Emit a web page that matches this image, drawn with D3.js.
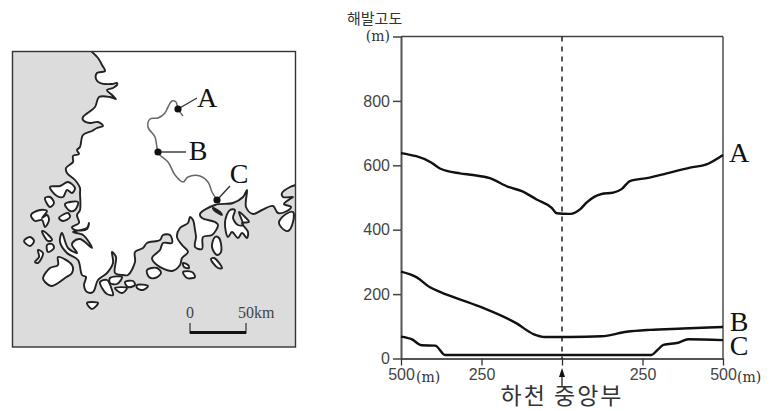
<!DOCTYPE html>
<html>
<head>
<meta charset="utf-8">
<style>
body { margin: 0; background: #fff; }
svg { display: block; }
.ko { font-family: "Noto Sans CJK KR", sans-serif; fill: #333; }
.unit { font-family: "DejaVu Serif", serif; font-size: 14px; fill: #333; }
.letter { font-family: "Liberation Serif", serif; font-size: 28px; fill: #111; }
</style>
</head>
<body>
<svg id="chart" width="779" height="411"></svg>
<script src="https://cdn.jsdelivr.net/npm/d3@7"></script>
<script>
// cross sections: distance from river centre (m), elevation (m)
var sectionA = [[-500,638],[-405,608],[-379,590],[-317,575],[-276,570],[-224,560],[-167,533],[-125,520],[-79,494],[-32,468],[-16,451],[22,449],[35,451],[56,463],[77,485],[123,511],[159,515],[185,526],[211,551],[268,561],[325,575],[398,593],[449,603],[500,632]];
var sectionB = [[-500,270],[-451,252],[-410,221],[-379,207],[-255,161],[-141,109],[-89,76],[-53,67],[25,67],[123,69],[201,83],[273,89],[376,93],[500,98]];
var sectionC = [[-500,68],[-467,60],[-436,41],[-394,40],[-363,11],[278,11],[294,24],[315,42],[361,49],[392,60],[500,57]];
var sectionNames = ["A", "B", "C"];
var elevationTicks = [0, 200, 400, 600, 800, 1000];
var distanceTicks = [-500, -250, 0, 250, 500];

// map outlines in map grid units
var mainCoast = [[91,51],[98,58],[102,65],[105,71],[97,73],[96,79],[100,83],[112,84],[117,83],[117,85],[113,88],[107,90],[112,95],[116,99],[110,97],[99,97],[95,107],[83,117],[83,120],[90,123],[98,122],[103,126],[97,128],[92,131],[83,135],[80,147],[77,150],[79,154],[73,156],[73,162],[66,168],[67,173],[75,180],[80,188],[80,193],[80,210],[77,215],[79,223],[72,227],[75,230],[87,229],[89,223],[87,228],[73,232],[83,235],[92,248],[80,239],[73,242],[72,245],[77,253],[68,248],[62,233],[60,242],[67,253],[78,260],[82,275],[86,277],[84,285],[87,292],[93,292],[98,280],[107,273],[113,263],[112,252],[116,257],[115,273],[123,275],[128,275],[135,262],[135,252],[143,248],[147,243],[160,240],[163,235],[170,235],[172,243],[163,243],[160,250],[152,258],[157,265],[172,271],[180,265],[182,258],[188,252],[182,245],[177,237],[180,228],[188,223],[190,217],[193,220],[195,230],[196,237],[195,247],[202,249],[203,237],[212,235],[218,225],[215,222],[202,218],[200,214],[215,205],[233,203],[243,197],[247,190],[246,207],[253,214],[262,210],[273,206],[278,213],[287,211],[291,207],[284,204],[290,199],[293,197],[283,197],[282,193],[290,187],[296,185]];
var islands = [
	[[50,187],[60,186],[68,182],[75,188],[72,193],[67,190],[63,197],[57,196]],
	[[65,204],[78,202],[75,210],[70,211]],
	[[45,198],[50,197],[54,203],[50,207]],
	[[59,218],[68,213],[70,217],[63,221]],
	[[31,215],[40,210],[47,211],[42,218],[47,215],[49,220],[45,227],[42,220],[35,221]],
	[[42,231],[45,232],[52,240],[48,241]],
	[[24,241],[30,237],[34,241],[30,246]],
	[[47,245],[52,244],[54,248],[48,252]],
	[[38,250],[43,253],[38,263],[35,262],[39,257]],
	[[43,278],[50,268],[58,265],[58,257],[72,265],[72,273],[65,278],[58,283],[52,286],[45,282]],
	[[87,303],[98,303],[92,309]],
	[[100,282],[107,280],[112,290],[113,295],[107,294],[102,288]],
	[[110,278],[122,277],[117,284],[110,283]],
	[[115,288],[127,288],[122,293]],
	[[125,282],[133,281],[135,285],[128,287]],
	[[137,285],[148,286],[143,290],[137,288]],
	[[147,270],[157,268],[161,273],[155,278],[149,277]],
	[[183,263],[188,265],[189,268],[184,267]],
	[[183,272],[192,272],[195,277],[187,278]],
	[[211,259],[214,258],[222,268],[218,268]],
	[[215,237],[219,238],[221,252],[217,255],[212,247]],
	[[213,208],[220,212],[222,215],[214,210]],
	[[225,222],[230,210],[235,210],[233,218],[238,225],[243,225],[239,212],[245,217],[249,222],[242,223],[248,232],[247,238],[242,233],[238,238],[232,232],[228,237]],
	[[279,222],[286,214],[293,212],[293,222],[288,231],[281,227]]
];
var river = [[183,116],[178,109],[176,102],[172,101],[168,107],[165,113],[158,118],[150,119],[148,127],[155,137],[157,148],[158,153],[168,162],[175,175],[183,182],[188,177],[200,176],[208,182],[212,192],[217,200]];
var sites = [
	{ name: "A", at: [178,109], to: [197,98], label: [207,107] },
	{ name: "B", at: [158,152], to: [186,152], label: [198,160] },
	{ name: "C", at: [217,200], to: [230,186], label: [239,183] }
];
var scaleKm = [0, 50];

var svg = d3.select("#chart");

// ---- map ----
var mapX = d3.scaleLinear().domain([12, 296]).range([12, 296]);
var mapY = d3.scaleLinear().domain([51, 347]).range([51, 347]);
var kmX = d3.scaleLinear().domain(scaleKm).range([190, 246]);
var coastLine = d3.line()
    .x(function (d) { return mapX(d[0]); })
    .y(function (d) { return mapY(d[1]); })
    .curve(d3.curveCatmullRom.alpha(0.5));
var closedLine = d3.line()
    .x(function (d) { return mapX(d[0]); })
    .y(function (d) { return mapY(d[1]); })
    .curve(d3.curveCatmullRomClosed.alpha(0.5));

svg.append("clipPath").attr("id", "frame")
  .append("rect")
    .attr("x", mapX(12)).attr("y", mapY(51))
    .attr("width", mapX(296) - mapX(12)).attr("height", mapY(347) - mapY(51));

var map = svg.append("g").attr("clip-path", "url(#frame)");
map.append("rect")
    .attr("x", mapX(12)).attr("y", mapY(51))
    .attr("width", mapX(296) - mapX(12)).attr("height", mapY(347) - mapY(51))
    .style("fill", "#dcdcdc");
map.append("path")
    .attr("d", coastLine(mainCoast) + "L" + mapX(296) + "," + mapY(51) + "Z")
    .style("fill", "#fff");
map.append("path")
    .attr("d", coastLine(mainCoast))
    .style("fill", "none").style("stroke", "#222").style("stroke-width", 1.9);
map.selectAll("path.island")
    .data(islands)
  .enter()
  .append("path").classed("island", true)
    .attr("d", closedLine)
    .style("fill", "#fff").style("stroke", "#222").style("stroke-width", 1.9);
map.append("path")
    .attr("d", coastLine(river))
    .style("fill", "none").style("stroke", "#666").style("stroke-width", 1.5);

svg.append("rect")
    .attr("x", mapX(12.5)).attr("y", mapY(51.5))
    .attr("width", mapX(295.5) - mapX(12.5)).attr("height", mapY(347) - mapY(51.5))
    .style("fill", "none").style("stroke", "#333").style("stroke-width", 1.4);

var site = svg.selectAll("g.site")
    .data(sites)
  .enter()
  .append("g").classed("site", true);
site.append("line")
    .attr("x1", function (d) { return mapX(d.at[0]); })
    .attr("y1", function (d) { return mapY(d.at[1]); })
    .attr("x2", function (d) { return mapX(d.to[0]); })
    .attr("y2", function (d) { return mapY(d.to[1]); })
    .style("stroke", "#333").style("stroke-width", 1.4);
site.append("circle")
    .attr("cx", function (d) { return mapX(d.at[0]); })
    .attr("cy", function (d) { return mapY(d.at[1]); })
    .attr("r", 3.6)
    .style("fill", "#111");
site.append("text").classed("letter", true)
    .attr("x", function (d) { return mapX(d.label[0]); })
    .attr("y", function (d) { return mapY(d.label[1]); })
    .attr("text-anchor", "middle")
    .text(function (d) { return d.name; });

// scale bar
svg.append("path")
    .attr("d", "M" + kmX(0) + ",323V333H" + kmX(50) + "V323")
    .style("fill", "none").style("stroke", "#333").style("stroke-width", 1.2);
svg.append("line")
    .attr("x1", kmX(0)).attr("x2", kmX(50)).attr("y1", 332.5).attr("y2", 332.5)
    .style("stroke", "#111").style("stroke-width", 3);
svg.append("text")
    .attr("x", kmX(0)).attr("y", 318).attr("text-anchor", "middle")
    .style("font-size", "16px").style("font-family", "Liberation Serif").style("fill", "#444")
    .text("0");
svg.append("text")
    .attr("x", kmX(50) - 8).attr("y", 318)
    .style("font-size", "16px").style("font-family", "Liberation Serif").style("fill", "#444")
    .text("50km");

// ---- cross section ----
var x = d3.scaleLinear().domain([-500, 500]).range([401, 723]);
var y = d3.scaleLinear().domain([0, 1000]).range([358.5, 36.5]);

var yAxis = d3.axisLeft(y)
    .tickValues(elevationTicks)
    .tickSize(8)
    .tickSizeOuter(0)
    .tickFormat(function (d) { return d === 1000 ? "" : d; });
var yGroup = svg.append("g")
    .attr("transform", "translate(" + x(-500) + ",0)")
    .call(yAxis);
yGroup.select(".domain").style("stroke", "#555").style("stroke-width", 2);
yGroup.selectAll(".tick line").style("stroke", "#444").style("stroke-width", 1.5);
yGroup.selectAll(".tick text").attr("x", -11).style("font-size", "16px").style("font-family", "Liberation Sans").style("fill", "#444");

var xAxis = d3.axisBottom(x)
    .tickValues(distanceTicks)
    .tickSize(7)
    .tickSizeOuter(0)
    .tickFormat(function (d) { return d === 0 ? "" : Math.abs(d); });
var xGroup = svg.append("g")
    .attr("transform", "translate(0," + y(0) + ")")
    .call(xAxis);
xGroup.select(".domain").style("stroke", "#555").style("stroke-width", 2);
xGroup.selectAll(".tick line").style("stroke", "#333").style("stroke-width", 1.3);
xGroup.selectAll(".tick text").attr("y", 10).style("font-size", "16px").style("font-family", "Liberation Sans").style("fill", "#444");

// top and right border
svg.append("line")
    .attr("x1", x(-500)).attr("x2", x(500)).attr("y1", y(1000)).attr("y2", y(1000))
    .style("stroke", "#444").style("stroke-width", 1.6);
svg.append("line")
    .attr("x1", x(500)).attr("x2", x(500)).attr("y1", y(1000)).attr("y2", y(0))
    .style("stroke", "#222").style("stroke-width", 1.2);
svg.append("line")
    .attr("x1", x(0)).attr("x2", x(0)).attr("y1", y(1000)).attr("y2", y(0))
    .style("stroke", "#111").style("stroke-width", 1.4).style("stroke-dasharray", "5,5");

var profile = d3.line()
    .x(function (d) { return x(d[0]); })
    .y(function (d) { return y(d[1]); })
    .curve(d3.curveMonotoneX);

var sections = [sectionA, sectionB, sectionC];
svg.selectAll("path.section")
    .data(sections)
  .enter()
  .append("path").classed("section", true)
    .attr("d", profile)
    .style("fill", "none").style("stroke", "#111").style("stroke-width", 2.4);

svg.selectAll("text.name")
    .data(sectionNames)
  .enter()
  .append("text").attr("class", "letter name")
    .attr("x", 739)
    .attr("y", function (d, i) { return [162, 331, 355][i]; })
    .attr("text-anchor", "middle")
    .text(function (d) { return d; });

svg.append("text").attr("class", "ko")
    .attr("x", 347).attr("y", 24).style("font-size", "15px")
    .text("해발고도");
svg.append("text").attr("class", "unit")
    .attr("x", 390).attr("y", 41).attr("text-anchor", "end")
    .text("(m)");
svg.append("text").attr("class", "unit")
    .attr("x", 416).attr("y", 382)
    .text("(m)");
svg.append("text").attr("class", "unit")
    .attr("x", 737).attr("y", 382)
    .text("(m)");

// arrow to river centre
svg.append("line")
    .attr("x1", x(0)).attr("x2", x(0)).attr("y1", 372).attr("y2", 386)
    .style("stroke", "#222").style("stroke-width", 1.3);
svg.append("path")
    .attr("d", "M" + x(0) + ",368l3,9h-6z")
    .style("fill", "#111");
svg.append("text").attr("class", "ko")
    .attr("x", x(0)).attr("y", 404).attr("text-anchor", "middle")
    .style("font-size", "23px").style("letter-spacing", "2px")
    .text("하천 중앙부");
</script>
</body>
</html>
